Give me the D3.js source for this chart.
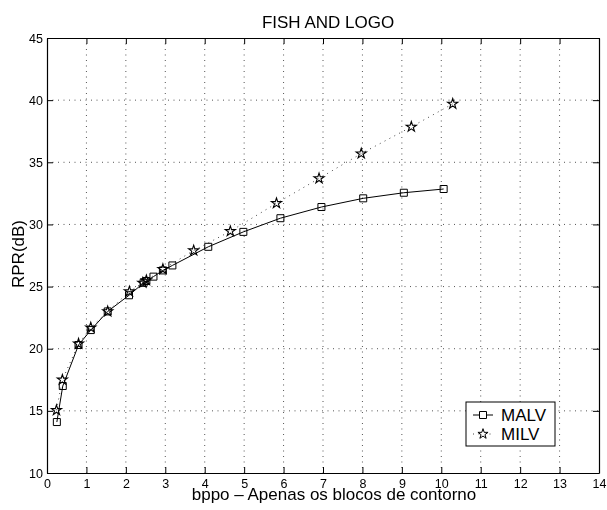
<!DOCTYPE html>
<head>
  <meta charset="utf-8">
  <script src="https://d3js.org/d3.v7.min.js"></script>
  <style>
    body { margin:0;position:fixed;top:0;right:0;bottom:0;left:0;background:#fff; }
    text { font-family: "Liberation Sans", Arial, sans-serif; }
  </style>
</head>
<body>

<script>

  // data
  var malvX = [0.25, 0.4, 0.8, 1.11, 1.54, 2.08, 2.45, 2.52, 2.7, 2.94, 3.18, 4.09, 4.98, 5.92, 6.96, 8.02, 9.05, 10.06];
  var malvY = [14.1, 17.0, 20.3, 21.5, 23.0, 24.3, 25.3, 25.45, 25.8, 26.3, 26.7, 28.2, 29.4, 30.5, 31.4, 32.1, 32.55, 32.85];

  var milvX = [0.24, 0.39, 0.8, 1.11, 1.54, 2.09, 2.43, 2.52, 2.94, 3.72, 4.65, 5.82, 6.9, 7.97, 9.24, 10.29];
  var milvY = [15.05, 17.5, 20.4, 21.7, 23.0, 24.6, 25.3, 25.5, 26.4, 27.9, 29.45, 31.7, 33.7, 35.7, 37.85, 39.7];

  var xTicks = [0, 1, 2, 3, 4, 5, 6, 7, 8, 9, 10, 11, 12, 13, 14];
  var yTicks = [10, 15, 20, 25, 30, 35, 40, 45];

  var seriesNames = ["MALV", "MILV"];

  var margin = {top: 38, right: 8, bottom: 37, left: 47},
  width = 607 - margin.left - margin.right,
  height = 510 - margin.top - margin.bottom;

  var svg = d3.select("body").append("svg")
    .attr("width", width + margin.left + margin.right)
    .attr("height", height + margin.top + margin.bottom)
    .append("g")
    .attr("transform", "translate(" + margin.left + "," + margin.top + ")");

  var x = d3.scaleLinear().domain([0, 14]).range([0, width]);
  var y = d3.scaleLinear().domain([10, 45]).range([height, 0]);

  var malv = malvX.map(function(d, i) { return {x: d, y: malvY[i]}; });
  var milv = milvX.map(function(d, i) { return {x: d, y: milvY[i]}; });

  // dotted grid
  svg.append("g").selectAll("line").data(xTicks.slice(1, -1)).enter()
    .append("line")
    .attr("x1", function(d) { return x(d); })
    .attr("x2", function(d) { return x(d); })
    .attr("y1", 0).attr("y2", height)
    .attr("stroke", "#555").attr("stroke-width", 1)
    .attr("stroke-dasharray", "1,4.5");

  svg.append("g").selectAll("line").data(yTicks.slice(1, -1)).enter()
    .append("line")
    .attr("y1", function(d) { return y(d); })
    .attr("y2", function(d) { return y(d); })
    .attr("x1", 0).attr("x2", width)
    .attr("stroke", "#555").attr("stroke-width", 1)
    .attr("stroke-dasharray", "1,4.5");

  // axes, ticks pointing inward on all four sides
  var axisBottom = svg.append("g")
    .attr("transform", "translate(0," + height + ")")
    .call(d3.axisBottom(x).tickValues(xTicks).tickSizeInner(-6).tickSizeOuter(0).tickPadding(6));
  var axisLeft = svg.append("g")
    .call(d3.axisLeft(y).tickValues(yTicks).tickSizeInner(-6).tickSizeOuter(0).tickPadding(4));
  var axisTop = svg.append("g")
    .call(d3.axisTop(x).tickValues(xTicks).tickSizeInner(-6).tickSizeOuter(0).tickFormat(""));
  var axisRight = svg.append("g")
    .attr("transform", "translate(" + width + ",0)")
    .call(d3.axisRight(y).tickValues(yTicks).tickSizeInner(-6).tickSizeOuter(0).tickFormat(""));

  [axisBottom, axisLeft, axisTop, axisRight].forEach(function(a) {
    a.selectAll("text").style("font-size", "12.5px").style("font-family", "Liberation Sans, Arial, sans-serif").attr("fill", "#000");
    a.selectAll("line").attr("stroke", "#000");
    a.select(".domain").attr("stroke", "#000").attr("stroke-width", 1.2);
  });

  var line = d3.line()
    .x(function(d) { return x(d.x); })
    .y(function(d) { return y(d.y); });

  // MILV: dotted line with stars
  svg.append("path").datum(milv)
    .attr("d", line)
    .attr("fill", "none")
    .attr("stroke", "#444")
    .attr("stroke-width", 1)
    .attr("stroke-dasharray", "1,4.5");

  // MALV: solid line with squares
  svg.append("path").datum(malv)
    .attr("d", line)
    .attr("fill", "none")
    .attr("stroke", "#000")
    .attr("stroke-width", 1);

  var square = d3.symbol().type(d3.symbolSquare).size(49);
  var star = d3.symbol().type(d3.symbolStar).size(32);

  svg.append("g").selectAll("path").data(malv).enter()
    .append("path")
    .attr("d", square)
    .attr("transform", function(d) { return "translate(" + x(d.x) + "," + y(d.y) + ")"; })
    .attr("fill", "none").attr("stroke", "#000").attr("stroke-width", 1);

  svg.append("g").selectAll("path").data(milv).enter()
    .append("path")
    .attr("d", star)
    .attr("transform", function(d) { return "translate(" + x(d.x) + "," + y(d.y) + ")"; })
    .attr("fill", "none").attr("stroke", "#000").attr("stroke-width", 1.1);

  // legend
  var legend = svg.append("g")
    .attr("transform", "translate(" + (466 - margin.left) + "," + (402 - margin.top) + ")");

  legend.append("rect")
    .attr("width", 89).attr("height", 44)
    .attr("fill", "#fff").attr("stroke", "#000").attr("stroke-width", 1);

  legend.selectAll("text").data(seriesNames).enter()
    .append("text")
    .attr("x", 35)
    .attr("y", function(d, i) { return 13 + i * 19; })
    .attr("dy", "0.35em")
    .style("font-size", "17px")
    .text(function(d) { return d; });

  legend.append("line")
    .attr("x1", 7).attr("x2", 27).attr("y1", 13).attr("y2", 13)
    .attr("stroke", "#000").attr("stroke-width", 1);
  legend.append("path")
    .attr("d", square)
    .attr("transform", "translate(17,13)")
    .attr("fill", "#fff").attr("stroke", "#000");

  legend.append("line")
    .attr("x1", 7).attr("x2", 27).attr("y1", 32).attr("y2", 32)
    .attr("stroke", "#444").attr("stroke-width", 1)
    .attr("stroke-dasharray", "1,4.5");
  legend.append("path")
    .attr("d", star)
    .attr("transform", "translate(17,32)")
    .attr("fill", "#fff").attr("stroke", "#000");

  // title and axis labels
  svg.append("text")
    .attr("x", 328 - margin.left)
    .attr("y", 28 - margin.top)
    .style("text-anchor", "middle")
    .style("font-size", "17px")
    .text("FISH AND LOGO");

  svg.append("text")
    .attr("x", 334 - margin.left)
    .attr("y", height + 27)
    .style("text-anchor", "middle")
    .style("font-size", "17px")
    .text("bppo \u2013 Apenas os blocos de contorno");

  svg.append("text")
    .attr("transform", "rotate(-90)")
    .attr("x", -(254 - margin.top))
    .attr("y", -(margin.left - 24))
    .style("text-anchor", "middle")
    .style("font-size", "17px")
    .text("RPR(dB)");

</script>

</body>
